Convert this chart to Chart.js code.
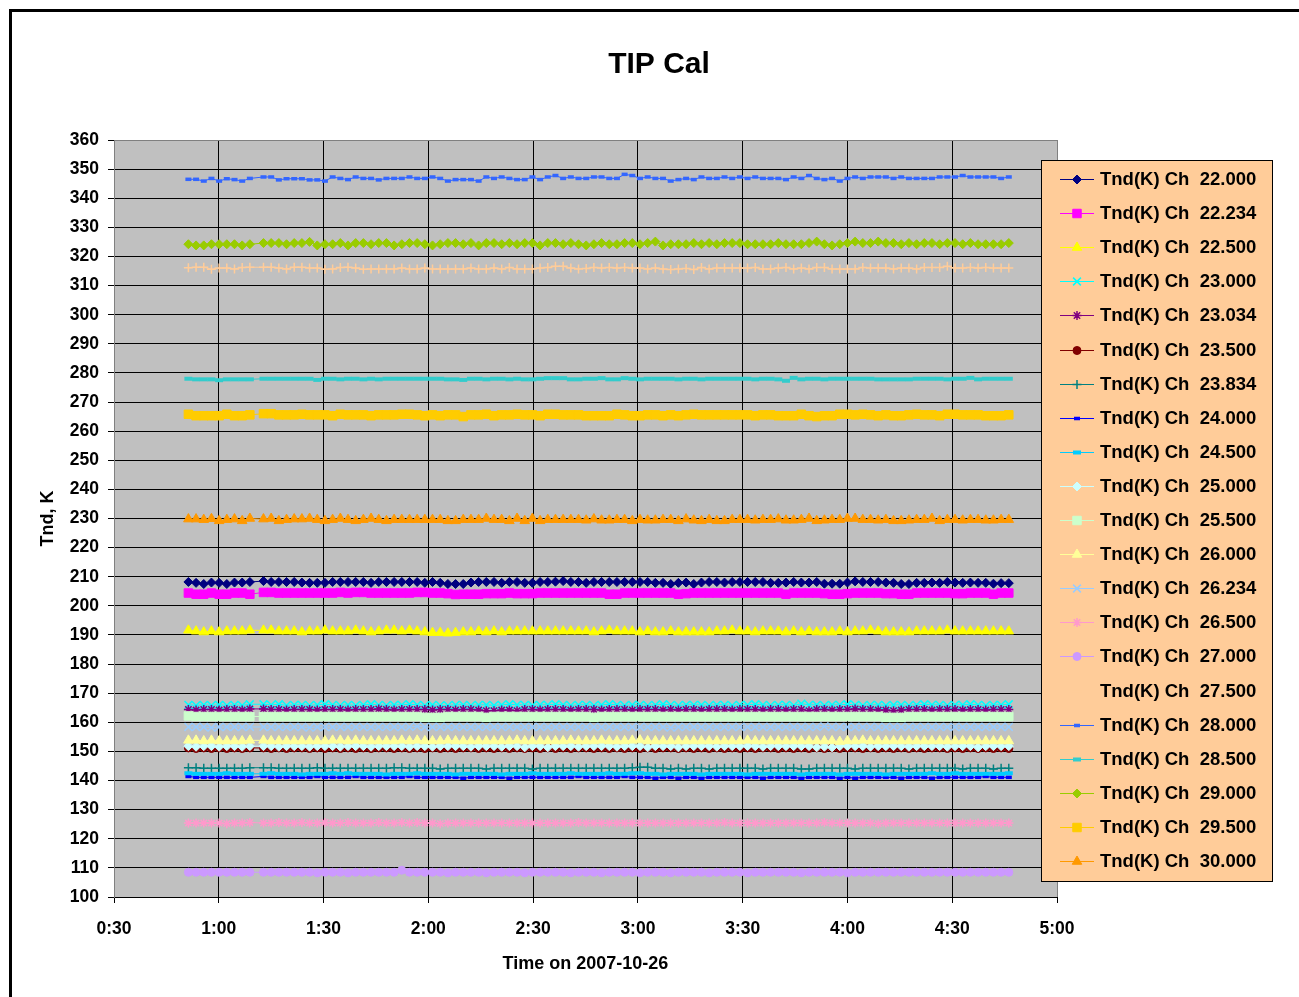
<!DOCTYPE html>
<html>
<head>
<meta charset="utf-8">
<title>TIP Cal</title>
<script src="https://cdn.jsdelivr.net/npm/chart.js@4.4.0/dist/chart.umd.min.js"></script>
<style>
  html, body { margin: 0; padding: 0; background: #fff; }
  #wrap { position: relative; width: 1299px; height: 997px; }
</style>
</head>
<body>
<div id="wrap"><canvas id="tipChart"></canvas></div>
<script>
// channel names (legend order)
const channels = ["22.000", "22.234", "22.500", "23.000", "23.034", "23.500", "23.834",
  "24.000", "24.500", "25.000", "25.500", "26.000", "26.234", "26.500", "27.000",
  "27.500", "28.000", "28.500", "29.000", "29.500", "30.000"];

// sample times, minutes after 0:00 on 2007-10-26
const times = [51.3, 53.5, 55.7, 57.9, 60.1, 62.3, 64.5, 66.7, 68.9,
  72.8, 75.0, 77.2, 79.4, 81.6, 83.8, 86.0, 88.2, 90.4, 92.6,
  94.8, 97.0, 99.2, 101.4, 103.6, 105.8, 108.0, 110.2, 112.4, 114.6,
  116.8, 119.0, 121.2, 123.4, 125.6, 127.8, 130.0, 132.2, 134.4, 136.6,
  138.8, 141.0, 143.2, 145.4, 147.6, 149.8, 152.0, 154.2,
  156.4, 158.6, 160.8, 163.0, 165.2, 167.4, 169.6, 171.8, 174.0, 176.2,
  178.4, 180.6, 182.8, 185.0, 187.2, 189.4, 191.6, 193.8, 196.0, 198.2,
  200.4, 202.6, 204.8, 207.0, 209.2, 211.4, 213.6, 215.8, 218.0, 220.2,
  222.4, 224.6, 226.8, 229.0, 231.2, 233.4, 235.6, 237.8, 240.0, 242.2,
  244.4, 246.6, 248.8, 251.0, 253.2, 255.4, 257.6, 259.8, 262.0, 264.2,
  266.4, 268.6, 270.8, 273.0, 275.2, 277.4, 279.6, 281.8, 284.0, 286.2];

// Tnd (K) per channel
const ch22000 = [208.2,207.9,207.5,208.0,207.9,207.5,208.0,208.0,208.2,
  208.5,208.2,208.2,208.2,208.2,208.0,207.9,207.9,207.9,208.2,
  208.2,208.2,208.2,208.2,207.9,208.2,208.2,208.2,208.2,208.2,
  208.2,207.9,208.2,207.9,207.5,207.5,207.5,208.0,208.2,208.2,
  208.2,207.9,208.2,208.2,207.9,207.9,208.2,208.2,
  208.3,208.5,208.2,208.2,207.9,208.2,208.2,208.2,208.2,208.2,
  208.2,208.2,208.2,207.9,207.9,207.5,207.9,208.0,207.5,208.0,
  208.2,208.2,208.0,208.2,208.2,208.2,208.2,208.2,207.9,207.9,
  208.0,208.2,208.0,208.0,208.2,207.6,207.6,207.6,208.0,208.4,
  208.2,208.2,208.2,208.0,207.9,207.5,207.5,207.9,207.9,208.0,
  207.9,208.2,208.0,207.9,208.0,207.9,207.9,207.6,207.8,207.8];
const ch22234 = [204.4,204.0,204.0,204.4,204.0,204.0,204.4,204.4,204.0,
  204.6,204.6,204.4,204.4,204.4,204.4,204.4,204.4,204.4,204.4,
  204.6,204.4,204.6,204.6,204.4,204.4,204.4,204.4,204.4,204.4,
  204.6,204.6,204.4,204.4,204.2,203.9,204.0,204.0,204.0,204.2,
  204.2,204.2,204.4,204.2,204.2,204.2,204.4,204.4,
  204.4,204.4,204.4,204.4,204.4,204.4,204.4,204.0,204.0,204.4,
  204.4,204.4,204.4,204.4,204.4,204.4,204.0,204.2,204.4,204.4,
  204.4,204.4,204.4,204.4,204.4,204.4,204.4,204.4,204.4,204.4,
  204.0,204.4,204.4,204.4,204.4,204.2,204.0,204.0,204.2,204.4,
  204.4,204.4,204.4,204.2,204.2,204.0,204.0,204.4,204.4,204.4,
  204.4,204.4,204.2,204.2,204.4,204.4,204.4,204.0,204.4,204.4];
const ch22500 = [191.6,191.3,191.0,191.3,191.0,191.3,191.3,191.3,191.6,
  191.6,191.6,191.3,191.3,191.3,191.0,191.3,191.3,191.6,191.3,
  191.3,191.3,191.6,191.3,191.0,191.3,191.6,191.6,191.3,191.6,
  191.3,191.0,190.8,190.8,190.6,190.8,191.0,191.0,191.3,191.0,
  191.3,191.0,191.3,191.3,191.3,191.3,191.3,191.3,
  191.3,191.3,191.3,191.3,191.3,191.0,191.3,191.6,191.3,191.3,
  191.3,191.0,191.3,191.0,191.0,191.3,191.0,191.0,191.0,191.0,
  191.0,191.3,191.3,191.6,191.3,191.3,191.0,191.3,191.3,191.3,
  191.0,191.3,191.0,191.3,191.0,191.0,191.0,191.3,191.0,191.3,
  191.3,191.6,191.3,191.0,191.0,191.0,191.0,191.3,191.3,191.3,
  191.3,191.6,191.3,191.3,191.3,191.3,191.3,191.3,191.3,191.3];
const ch23000 = [166.0,165.8,166.0,165.8,166.0,165.8,166.0,165.8,166.2,
  166.2,166.0,166.2,165.8,166.0,166.0,165.8,166.0,166.2,166.0,
  165.8,166.0,165.8,166.0,166.2,166.0,165.8,166.0,166.0,166.2,
  166.0,165.8,166.0,165.8,165.8,166.0,166.0,165.8,166.0,166.0,
  165.8,166.0,166.2,166.0,166.0,165.8,166.0,166.0,
  166.2,166.0,165.8,166.0,166.0,165.8,166.0,166.2,166.0,165.8,
  166.0,166.0,165.8,166.0,166.2,166.0,165.8,166.0,166.0,166.0,
  165.8,166.0,166.0,165.8,166.0,166.0,166.2,166.0,165.8,166.0,
  166.0,165.8,166.4,166.0,166.0,165.8,166.0,166.0,166.2,166.0,
  165.8,166.0,166.0,165.8,166.0,166.0,165.8,166.0,166.2,166.0,
  166.0,165.8,166.0,166.0,166.2,166.0,165.8,166.0,166.0,166.2];
const ch23034 = [164.4,164.2,164.4,164.4,164.2,164.4,164.4,164.2,164.6,
  164.6,164.4,164.4,164.2,164.4,164.4,164.4,164.2,164.4,164.4,
  164.4,164.2,164.4,164.4,164.4,164.6,164.4,164.2,164.4,164.4,
  164.4,164.4,164.2,164.4,164.4,164.2,164.4,164.4,164.2,164.0,
  164.0,164.2,164.2,164.0,164.4,164.4,164.2,164.4,
  164.4,164.4,164.2,164.4,164.4,164.4,164.2,164.4,164.4,164.4,
  164.2,164.4,164.4,164.4,164.2,164.4,164.2,164.4,164.4,164.2,
  164.4,164.4,164.4,164.2,164.4,164.4,164.4,164.2,164.4,164.4,
  164.2,164.4,164.4,164.0,164.4,164.4,164.2,164.4,164.4,164.6,
  164.4,164.4,164.2,164.2,164.0,164.2,164.4,164.4,164.4,164.2,
  164.4,164.4,164.4,164.2,164.4,164.4,164.2,164.4,164.4,164.4];
const ch23500 = [151.2,151.0,151.2,151.0,151.2,151.0,151.2,151.0,151.2,
  151.2,151.0,151.2,151.0,151.2,151.2,151.0,151.2,151.0,151.2,
  151.0,151.2,151.0,151.2,151.0,151.2,151.2,151.0,151.2,151.0,
  151.2,151.0,151.2,151.0,151.2,151.0,151.2,151.2,151.0,151.2,
  151.0,151.2,151.0,151.2,151.0,151.2,151.0,151.2,
  151.0,151.2,151.0,151.2,151.2,151.0,151.2,151.0,151.2,151.0,
  151.2,151.0,151.2,151.0,151.2,151.2,151.0,151.2,151.0,151.2,
  151.0,151.2,151.0,151.2,151.0,151.2,151.0,151.2,151.2,151.0,
  151.2,151.0,151.2,151.0,151.2,151.0,151.2,151.0,151.2,151.2,
  151.0,151.2,151.0,151.2,151.0,151.2,151.0,151.2,151.0,151.2,
  151.2,151.0,151.2,151.0,151.2,151.0,151.2,151.0,151.2,151.0];
const ch23834 = [144.4,144.4,144.2,144.2,144.2,144.2,144.2,144.2,144.4,
  144.4,144.4,144.2,144.2,144.2,144.2,144.2,144.4,144.2,144.2,
  144.2,144.2,144.2,144.2,144.2,144.2,144.2,144.4,144.4,144.2,
  144.2,144.2,144.2,144.0,144.2,144.2,144.2,144.2,144.2,144.0,
  144.2,144.2,144.2,144.2,144.2,144.0,144.2,144.2,
  144.2,144.2,144.2,144.2,144.2,144.2,144.2,144.2,144.2,144.2,
  144.4,144.6,144.6,144.2,144.2,144.0,144.2,144.0,144.2,144.2,
  144.0,144.2,144.2,144.2,144.2,144.2,144.2,144.0,144.2,144.2,
  144.2,144.2,144.0,144.0,144.2,144.2,144.2,144.2,144.2,144.0,
  144.2,144.2,144.2,144.2,144.2,144.2,144.0,144.2,144.2,144.2,
  144.2,144.2,144.2,144.0,144.2,144.2,144.2,144.0,144.2,144.2];
const ch24000 = [141.4,141.1,141.1,141.1,141.1,141.1,141.1,141.1,141.1,
  141.4,141.1,141.1,141.1,141.1,141.1,141.1,141.4,141.1,141.1,
  141.1,141.1,141.4,141.1,141.1,141.1,141.1,141.1,141.1,141.4,
  141.1,141.1,141.1,141.1,141.1,141.1,140.8,141.1,141.1,141.1,
  141.1,141.1,140.8,141.1,141.1,141.1,141.1,141.1,
  141.1,141.1,141.1,141.4,141.1,141.1,141.1,141.1,141.1,141.4,
  141.1,141.1,141.1,140.8,141.1,141.1,140.8,141.1,141.1,140.8,
  141.1,141.1,141.1,141.1,141.1,141.1,141.1,140.8,141.1,141.1,
  141.1,141.1,140.8,141.1,141.1,141.1,141.1,140.8,141.1,140.8,
  141.1,141.1,141.1,141.1,141.1,140.8,141.1,141.1,141.1,140.8,
  141.1,141.1,141.1,141.1,141.1,141.1,141.4,141.1,141.1,141.1];
const ch24500 = [142.5,142.3,142.3,142.3,142.3,142.5,142.3,142.3,142.3,
  142.3,142.5,142.3,142.3,142.3,142.1,142.3,142.3,142.3,142.5,
  142.3,142.5,142.3,142.3,142.3,142.3,142.1,142.3,142.3,142.3,
  142.5,142.3,142.3,142.3,142.3,142.1,142.3,142.3,142.3,142.3,
  142.3,142.1,142.3,142.3,142.3,142.5,142.3,142.3,
  142.3,142.3,142.5,142.3,142.3,142.3,142.3,142.5,142.3,142.3,
  142.5,142.5,142.3,142.3,142.1,142.3,142.3,142.3,142.3,142.1,
  142.3,142.3,142.3,142.3,142.3,142.1,142.3,142.3,142.3,142.3,
  142.3,142.3,142.1,142.3,142.3,142.3,142.3,142.1,142.3,142.3,
  142.3,142.3,142.3,142.1,142.3,142.3,142.3,142.3,142.3,142.5,
  142.3,142.3,142.5,142.3,142.3,142.3,142.3,142.3,142.3,142.5];
const ch25000 = [151.8,151.6,151.8,151.8,151.6,151.8,151.8,151.6,151.8,
  151.8,151.8,151.6,151.8,151.8,151.8,151.6,151.8,151.8,151.8,
  151.6,151.8,151.8,151.8,151.6,151.8,151.8,151.8,151.8,151.6,
  151.8,151.8,151.6,151.8,151.8,151.8,151.8,151.6,151.8,151.8,
  151.8,151.6,151.8,151.8,151.4,151.8,151.8,151.4,
  151.8,151.8,151.8,151.6,151.8,151.8,151.8,151.8,151.6,151.8,
  151.8,151.8,151.4,151.8,151.8,151.8,151.4,151.8,151.8,151.8,
  151.8,151.6,151.8,151.8,151.8,151.8,151.8,151.6,151.8,151.8,
  151.8,151.8,151.8,151.8,151.4,151.6,151.4,151.8,151.8,151.8,
  151.8,151.6,151.8,151.8,151.8,151.8,151.6,151.8,151.8,151.8,
  151.8,151.6,151.8,151.8,151.8,151.4,151.8,151.8,151.8,151.8];
const ch25500 = [162.2,162.0,162.0,162.0,162.0,162.0,162.0,162.0,162.0,
  162.0,162.0,162.0,162.0,162.0,162.0,162.0,162.0,162.0,162.0,
  162.0,162.0,162.0,162.0,162.0,162.0,162.0,162.0,162.0,162.0,
  162.0,161.7,161.7,161.7,162.0,162.0,162.0,162.0,162.0,161.7,
  162.0,162.0,162.0,162.0,162.0,162.0,162.0,162.0,
  162.0,162.0,162.0,162.0,162.0,161.7,162.0,162.0,162.0,162.0,
  162.0,162.0,162.0,162.0,162.0,162.0,162.0,162.0,162.0,162.0,
  162.0,162.0,162.0,162.0,162.0,162.0,162.0,162.0,162.0,162.0,
  162.0,162.0,162.0,162.0,162.0,162.0,162.0,162.0,162.0,162.0,
  162.0,162.0,162.0,161.7,161.7,161.7,162.0,162.0,162.0,162.0,
  162.0,162.0,162.0,162.0,162.0,162.0,162.0,162.0,162.0,162.0];
const ch26000 = [153.8,153.8,153.6,153.8,153.6,153.6,153.6,153.6,153.8,
  153.8,153.6,153.6,153.6,153.6,153.6,153.6,153.6,153.6,153.8,
  153.8,153.6,153.8,153.6,153.6,153.6,153.6,153.6,153.8,153.6,
  153.8,153.6,153.6,153.6,153.8,153.6,153.6,153.6,153.6,153.6,
  153.6,153.6,153.6,153.8,153.6,153.6,153.6,153.6,
  153.6,153.6,153.8,153.6,153.6,153.6,153.8,153.6,153.6,153.6,
  153.8,153.9,153.6,153.6,153.6,153.6,153.6,153.6,153.6,153.6,
  153.6,153.6,153.6,153.6,153.6,153.8,153.6,153.6,153.6,153.6,
  153.6,153.6,153.6,153.6,153.6,153.6,153.6,153.4,153.6,153.6,
  153.8,153.6,153.6,153.6,153.6,153.6,153.6,153.6,153.6,153.6,
  153.6,153.6,153.6,153.6,153.6,153.6,153.6,153.6,153.6,153.6];
const ch26234 = [158.4,158.4,158.4,158.2,158.4,158.4,158.4,158.4,158.4,
  158.4,158.4,158.4,158.4,158.4,158.4,158.2,158.4,158.4,158.4,
  158.4,158.4,158.4,158.4,158.4,158.4,158.4,158.4,158.4,158.4,
  158.6,158.4,158.4,158.4,158.4,158.4,158.4,158.4,158.4,158.4,
  158.4,158.4,158.4,158.4,158.4,158.4,158.4,158.4,
  158.4,158.4,158.4,158.4,158.4,158.4,158.4,158.4,158.4,158.4,
  158.4,158.4,158.4,158.4,158.4,158.2,158.4,158.4,158.4,158.4,
  158.4,158.4,158.4,158.4,158.4,158.4,158.4,158.4,158.4,158.4,
  158.4,158.4,158.4,158.4,158.4,158.6,158.4,158.4,158.4,158.4,
  158.4,158.4,158.4,158.4,158.4,158.4,158.4,158.4,158.4,158.4,
  158.4,158.4,158.4,158.4,158.4,158.4,158.4,158.4,158.4,158.4];
const ch26500 = [125.4,125.4,125.4,125.4,125.4,125.2,125.4,125.4,125.6,
  125.4,125.4,125.6,125.4,125.4,125.6,125.4,125.4,125.6,125.4,
  125.4,125.6,125.4,125.4,125.4,125.6,125.4,125.4,125.6,125.4,
  125.6,125.4,125.4,125.2,125.4,125.4,125.4,125.4,125.4,125.4,
  125.4,125.4,125.4,125.4,125.4,125.4,125.4,125.4,
  125.4,125.4,125.4,125.6,125.4,125.4,125.4,125.4,125.4,125.4,
  125.4,125.4,125.4,125.4,125.4,125.4,125.4,125.4,125.4,125.4,
  125.4,125.4,125.6,125.4,125.4,125.4,125.4,125.4,125.4,125.4,
  125.4,125.4,125.4,125.4,125.4,125.6,125.4,125.4,125.4,125.4,
  125.4,125.4,125.2,125.4,125.4,125.4,125.4,125.4,125.4,125.4,
  125.4,125.4,125.4,125.4,125.4,125.4,125.4,125.4,125.4,125.4];
const ch27000 = [108.5,108.5,108.5,108.5,108.5,108.5,108.5,108.5,108.5,
  108.5,108.5,108.5,108.5,108.5,108.5,108.5,108.3,108.5,108.5,
  108.5,108.3,108.5,108.5,108.5,108.5,108.5,108.5,109.2,108.5,
  108.5,108.5,108.5,108.5,108.3,108.5,108.5,108.5,108.5,108.3,
  108.5,108.5,108.5,108.5,108.3,108.5,108.5,108.5,
  108.5,108.5,108.3,108.5,108.5,108.5,108.3,108.5,108.5,108.5,
  108.5,108.3,108.5,108.5,108.5,108.3,108.5,108.5,108.5,108.5,
  108.3,108.5,108.5,108.5,108.5,108.3,108.5,108.5,108.5,108.5,
  108.5,108.5,108.3,108.5,108.5,108.5,108.5,108.5,108.3,108.5,
  108.5,108.5,108.5,108.5,108.5,108.5,108.5,108.5,108.5,108.5,
  108.5,108.5,108.5,108.5,108.5,108.5,108.5,108.5,108.5,108.5];
const ch27500 = [316.1,316.3,316.3,315.6,316.0,316.0,315.7,316.2,316.3,
  316.3,316.3,316.0,315.7,316.3,316.3,316.0,316.0,315.6,315.7,
  316.2,316.3,316.0,315.6,315.7,315.7,315.7,315.7,316.0,315.7,
  315.7,316.0,315.7,315.7,315.7,315.7,315.7,316.0,315.7,315.7,
  316.0,315.7,316.2,315.7,315.7,315.7,316.0,316.2,
  316.6,316.6,316.0,315.7,315.9,316.2,316.0,316.2,316.0,316.2,
  316.0,316.0,315.7,316.0,315.7,315.5,315.7,315.9,315.5,316.2,
  315.7,316.0,316.0,316.0,316.0,316.0,316.2,315.7,315.7,316.0,
  316.2,315.7,316.0,315.7,316.2,316.2,315.7,315.7,315.7,315.7,
  316.2,316.0,316.0,316.0,315.7,316.0,316.0,315.7,316.2,316.2,
  316.2,316.6,316.0,316.0,316.2,316.0,316.2,316.0,316.0,316.0];
const ch28000 = [346.5,346.5,345.9,346.8,345.9,346.7,346.4,345.9,346.8,
  347.3,347.3,346.3,346.7,346.7,346.7,346.3,346.3,345.9,347.3,
  346.8,346.4,347.3,346.8,346.8,346.3,346.8,346.8,346.8,347.3,
  346.8,346.8,347.3,346.8,345.9,346.4,346.4,346.4,345.9,347.3,
  346.8,347.3,346.8,346.4,346.4,347.3,346.4,347.3,
  347.8,346.8,347.3,346.8,346.8,347.3,347.3,346.8,346.8,348.2,
  347.8,346.8,347.3,346.8,346.8,345.9,346.4,346.8,346.4,347.3,
  346.8,346.8,347.3,346.8,347.3,346.8,347.3,346.8,346.8,346.8,
  346.4,347.3,346.8,347.8,346.8,346.4,346.8,345.9,346.8,347.3,
  346.8,347.3,347.3,347.3,346.8,347.3,346.8,346.8,346.8,346.8,
  347.3,347.3,347.3,347.8,347.3,347.3,347.3,347.3,346.8,347.3];
const ch28500 = [278.0,277.8,277.8,277.8,277.5,277.8,277.8,277.8,277.8,
  278.0,278.0,278.0,278.0,278.0,278.0,278.0,277.6,278.0,278.0,
  277.8,278.0,278.0,277.8,278.0,277.8,278.0,278.0,278.0,278.0,
  278.0,278.0,278.0,278.0,277.8,277.8,277.6,278.0,278.0,277.8,
  278.0,278.0,277.8,278.0,277.8,277.8,278.0,278.2,
  278.2,278.2,277.8,277.8,278.0,278.0,278.2,277.8,277.8,278.2,
  278.0,277.8,278.0,278.0,278.0,278.0,277.8,278.0,278.0,277.8,
  278.0,278.0,278.0,278.0,278.0,278.0,277.8,278.0,278.0,277.8,
  277.3,278.3,277.8,278.0,278.0,277.8,278.0,278.0,278.0,278.0,
  278.0,278.0,277.8,277.8,277.8,277.8,277.8,278.0,278.0,278.0,
  278.0,277.8,278.0,278.0,278.3,277.8,278.0,278.0,278.0,278.0];
const ch29000 = [324.2,323.8,323.8,324.2,324.2,324.2,324.2,323.8,324.2,
  324.6,324.6,324.6,324.2,324.6,324.6,325.0,323.8,324.2,324.2,
  324.6,323.8,324.6,324.6,324.2,324.6,324.6,323.8,324.2,324.6,
  324.6,324.2,323.8,324.2,324.6,324.6,324.2,324.6,323.8,324.6,
  324.6,324.2,324.6,324.2,324.6,324.6,323.8,324.6,
  324.6,324.2,324.6,324.2,323.8,324.2,324.6,324.2,324.2,324.6,
  324.6,324.2,324.6,325.1,323.8,324.2,324.2,324.2,324.6,324.2,
  324.6,324.2,324.6,324.6,324.6,324.2,324.2,324.2,324.2,324.6,
  324.2,324.2,324.2,324.6,325.1,324.2,323.8,324.2,324.6,325.1,
  324.6,324.6,325.1,324.6,324.6,324.2,324.6,324.2,324.6,324.6,
  324.2,324.6,324.6,324.2,324.6,324.2,324.2,324.2,324.2,324.6];
const ch29500 = [265.8,265.3,265.3,265.3,265.3,265.8,265.3,265.3,265.6,
  266.0,266.0,265.6,265.6,265.6,265.8,265.6,265.6,265.6,265.3,
  265.8,265.6,265.6,265.6,265.3,265.6,265.6,265.6,265.8,265.8,
  265.6,265.3,265.6,265.3,265.6,265.6,265.0,265.6,265.6,265.8,
  265.3,265.6,265.6,265.8,265.6,265.6,265.3,265.8,
  265.8,265.6,265.6,265.6,265.3,265.3,265.3,265.3,265.8,265.6,
  265.3,265.3,265.6,265.6,265.3,265.6,265.3,265.6,265.8,265.6,
  265.6,265.6,265.6,265.6,265.6,265.6,265.3,265.6,265.6,265.3,
  265.3,265.3,265.8,265.3,265.0,265.3,265.3,265.8,265.8,265.6,
  265.8,265.6,265.3,265.6,265.3,265.3,265.6,265.8,265.6,265.6,
  265.3,265.8,265.8,265.6,265.6,265.6,265.3,265.3,265.3,265.6];
const ch30000 = [229.8,229.8,229.6,229.9,229.2,229.6,229.8,229.2,230.0,
  229.8,230.0,229.2,229.6,229.8,229.8,230.0,229.6,229.2,229.6,
  230.0,229.6,229.2,229.6,230.0,229.6,229.2,229.6,229.6,229.6,
  229.6,229.6,229.6,229.6,229.2,229.2,229.6,229.6,229.6,230.0,
  229.6,229.6,229.2,230.0,229.2,230.0,229.2,229.6,
  229.6,229.6,229.6,229.6,229.4,229.8,229.4,229.4,229.6,229.6,
  229.2,229.6,229.4,229.4,229.6,229.6,229.2,229.8,229.4,229.2,
  229.6,229.2,229.2,229.6,229.6,229.6,229.4,229.6,229.6,229.8,
  229.4,229.4,229.6,230.0,229.2,229.4,229.6,229.6,230.0,230.0,
  229.6,229.6,229.4,229.6,229.2,229.2,229.4,229.6,229.6,230.0,
  229.2,229.6,229.6,229.4,229.6,229.6,229.4,229.4,229.6,229.6];

const seriesValues = [ch22000, ch22234, ch22500, ch23000, ch23034, ch23500, ch23834,
  ch24000, ch24500, ch25000, ch25500, ch26000, ch26234, ch26500, ch27000,
  ch27500, ch28000, ch28500, ch29000, ch29500, ch30000];

// Excel palette colours and markers: [pointStyle, radius, borderWidth]
const colors = ["#000080", "#FF00FF", "#FFFF00", "#00FFFF", "#800080", "#800000", "#008080",
  "#0000FF", "#00CCFF", "#CCFFFF", "#CCFFCC", "#FFFF99", "#99CCFF", "#FF99CC", "#CC99FF",
  "#FFCC99", "#3366FF", "#33CCCC", "#99CC00", "#FFCC00", "#FF9900"];
const markers = [
  ["rectRot", 4.5, 1], ["rect", 6, 1], ["triangle", 5.5, 1], ["crossRot", 5.5, 1.5],
  ["star", 4.5, 1.5], ["circle", 4, 1], ["cross", 4.5, 1.5], ["line", 3, 3.5],
  ["line", 4, 4], ["rectRot", 4.5, 1], ["rect", 6, 1], ["triangle", 5.5, 1],
  ["crossRot", 5.5, 1.5], ["star", 4.5, 1.5], ["circle", 4, 1], ["cross", 4.5, 1.5],
  ["line", 3, 3.5], ["line", 4, 4], ["rectRot", 4.5, 1], ["rect", 6, 1], ["triangle", 5.5, 1]];

const FONT = '"Liberation Sans", Arial, sans-serif';
Chart.defaults.font.family = FONT;
Chart.defaults.color = "#000";

function hhmm(v) {
  const h = Math.floor(v / 60);
  const m = Math.round(v - h * 60);
  return h + ":" + String(m).padStart(2, "0");
}

const datasets = channels.map((ch, i) => ({
  label: "Tnd(K) Ch  " + ch,
  data: times.map((t, k) => ({ x: t, y: seriesValues[i][k] })),
  borderColor: colors[i],
  backgroundColor: colors[i],
  borderWidth: 1,
  pointStyle: markers[i][0],
  pointRadius: markers[i][1],
  pointBorderWidth: markers[i][2],
  pointBackgroundColor: colors[i],
  pointBorderColor: colors[i],
  pointHoverRadius: markers[i][1],
  tension: 0,
  fill: false,
  order: channels.length - i,
}));

// white page, black frame, grey plot area
const framePlugin = {
  id: "framePlugin",
  beforeDraw(chart) {
    const { ctx, chartArea: a } = chart;
    ctx.save();
    ctx.fillStyle = "#fff";
    ctx.fillRect(0, 0, chart.width, chart.height);
    ctx.fillStyle = "#000";
    ctx.fillRect(9, 9, chart.width - 9, 3);
    ctx.fillRect(9, 9, 3, chart.height - 9);
    ctx.fillStyle = "#c0c0c0";
    ctx.fillRect(a.left, a.top, a.right - a.left, a.bottom - a.top);
    ctx.restore();
  },
};

// title and the boxed legend drawn over the right edge of the plot
const titleLegendPlugin = {
  id: "titleLegendPlugin",
  afterDraw(chart) {
    const ctx = chart.ctx;
    ctx.save();
    ctx.fillStyle = "#000";
    ctx.font = "bold 30px " + FONT;
    ctx.textAlign = "center";
    ctx.textBaseline = "middle";
    ctx.fillText("TIP Cal", 659, 65);

    const box = { left: 1041, top: 160, right: 1273, bottom: 882 };
    ctx.fillStyle = "#FFCC99";
    ctx.fillRect(box.left, box.top, box.right - box.left, box.bottom - box.top);
    ctx.strokeStyle = "#000";
    ctx.lineWidth = 1;
    ctx.strokeRect(box.left + 0.5, box.top + 0.5, box.right - box.left - 1, box.bottom - box.top - 1);

    const first = 179, step = 34.1;
    chart.data.datasets.forEach((ds, i) => {
      const y = Math.round(first + i * step) + 0.5;
      ctx.strokeStyle = ds.borderColor;
      ctx.lineWidth = 1;
      ctx.beginPath();
      ctx.moveTo(1060, y);
      ctx.lineTo(1094, y);
      ctx.stroke();
      ctx.fillStyle = ds.pointBackgroundColor;
      ctx.strokeStyle = ds.pointBorderColor;
      ctx.lineWidth = ds.pointBorderWidth;
      Chart.helpers.drawPoint(ctx, {
        pointStyle: ds.pointStyle, radius: ds.pointRadius,
        borderWidth: ds.pointBorderWidth, rotation: 0,
      }, 1077, y);
      ctx.fillStyle = "#000";
      ctx.font = "bold 18.5px " + FONT;
      ctx.textAlign = "left";
      ctx.textBaseline = "middle";
      ctx.fillText(ds.label, 1100, y);
    });
    ctx.restore();
  },
};

const tickFont = { size: 17.5, weight: "bold" };
const titleFont = { size: 18, weight: "bold" };

new Chart(document.getElementById("tipChart"), {
  type: "line",
  data: { datasets },
  options: {
    responsive: true,
    maintainAspectRatio: false,
    animation: false,
    layout: { padding: { top: 140, right: 242, left: 0, bottom: 0 } },
    plugins: {
      legend: { display: false },
      title: { display: false },
      tooltip: { enabled: false },
    },
    scales: {
      x: {
        type: "linear",
        min: 30,
        max: 300,
        ticks: {
          stepSize: 30,
          autoSkip: false,
          maxRotation: 0,
          padding: 16,
          font: tickFont,
          color: "#000",
          callback: (v) => hhmm(v),
        },
        grid: {
          color: (c) => (c.tick && c.tick.value === 300 ? "#808080" : "#000"),
          tickColor: "#000",
          tickLength: 6,
          lineWidth: 1,
        },
        border: { color: "#000", width: 1 },
        title: {
          display: true,
          text: "Time on 2007-10-26",
          font: titleFont,
          color: "#000",
          padding: { top: 0, bottom: 22 },
        },
        afterFit: (s) => { s.height = 100; },
      },
      y: {
        min: 100,
        max: 360,
        ticks: {
          stepSize: 10,
          padding: 9,
          font: tickFont,
          color: "#000",
        },
        grid: {
          color: (c) => (c.tick && c.tick.value === 360 ? "#808080" : "#000"),
          tickColor: "#000",
          tickLength: 6,
          lineWidth: 1,
        },
        border: { color: "#808080", width: 1 },
        title: {
          display: true,
          text: "Tnd, K",
          font: titleFont,
          color: "#000",
          padding: { top: 37, bottom: 0 },
        },
        afterFit: (s) => { s.width = 114; },
      },
    },
  },
  plugins: [framePlugin, titleLegendPlugin],
});
</script>
</body>
</html>
